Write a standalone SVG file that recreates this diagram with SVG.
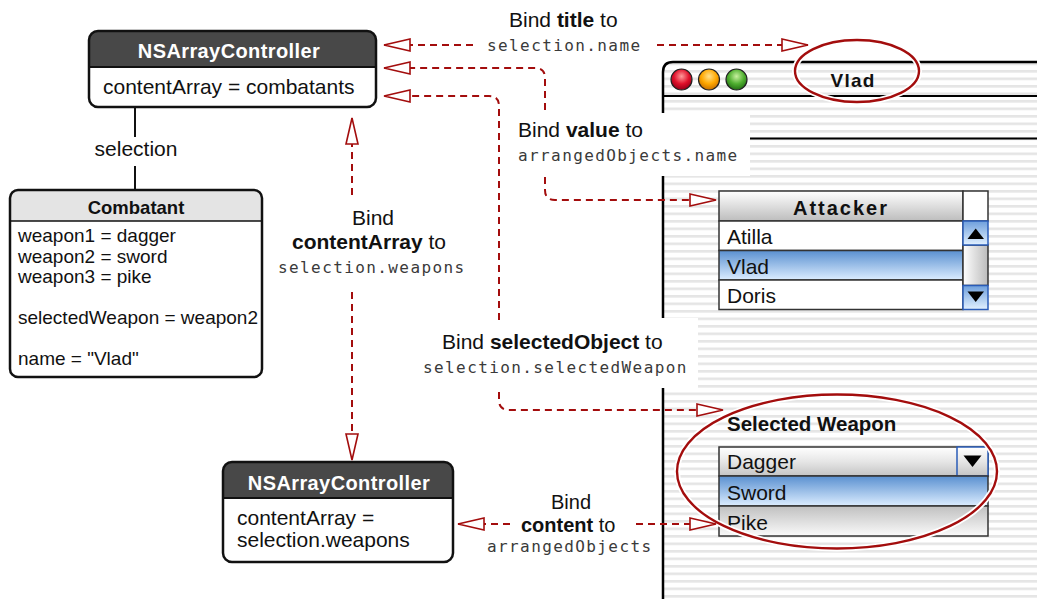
<svg xmlns="http://www.w3.org/2000/svg" width="1037" height="599" viewBox="0 0 1037 599">
<defs>
<style>
text{font-family:"Liberation Sans",Arial,sans-serif;fill:#111}
.lbl{font-size:21px}
.b{font-weight:bold}
.mono{font-family:"DejaVu Sans Mono","Liberation Mono",monospace;font-size:16px;letter-spacing:1.4px;fill:#3a3a3a}
.hdr{font-size:20px;font-weight:bold;fill:#fff;letter-spacing:0.4px}
.body{font-size:21px}
.cb{font-size:19px}
.box{fill:none;stroke:#111;stroke-width:2.5}
.conn{fill:none;stroke:#a30d0d;stroke-width:2;stroke-dasharray:7 5}
.cell{stroke:#333;stroke-width:1.5}
.ui{font-size:21px}
</style>
<pattern id="stripes" x="0" y="2.5" width="10" height="7.5" patternUnits="userSpaceOnUse">
<rect width="10" height="7.5" fill="#fff"/>
<rect width="10" height="2.6" fill="#e5e5e5"/>
</pattern>
<linearGradient id="gHead" x1="0" y1="0" x2="0" y2="1"><stop offset="0" stop-color="#fff"/><stop offset="1" stop-color="#bdbdbd"/></linearGradient>
<linearGradient id="gSel" x1="0" y1="0" x2="0" y2="1"><stop offset="0" stop-color="#5a90d0"/><stop offset="1" stop-color="#dcedff"/></linearGradient>
<linearGradient id="gBtn" x1="0" y1="0" x2="0" y2="1"><stop offset="0" stop-color="#6e9fdc"/><stop offset="1" stop-color="#e2f1ff"/></linearGradient>
<linearGradient id="gTrack" x1="0" y1="0" x2="1" y2="0"><stop offset="0" stop-color="#fff"/><stop offset="1" stop-color="#bbb"/></linearGradient>
<linearGradient id="gPop" x1="0" y1="0" x2="0" y2="1"><stop offset="0" stop-color="#fff"/><stop offset="0.5" stop-color="#e6e6e6"/><stop offset="1" stop-color="#c4c4c4"/></linearGradient>
<linearGradient id="gPike" x1="0" y1="0" x2="0" y2="1"><stop offset="0" stop-color="#c0c0c0"/><stop offset="1" stop-color="#fafafa"/></linearGradient>
<radialGradient id="gRed" cx="0.5" cy="0.35" r="0.6"><stop offset="0" stop-color="#ff9a9a"/><stop offset="0.6" stop-color="#e0102a"/><stop offset="1" stop-color="#a0001a"/></radialGradient>
<radialGradient id="gOrg" cx="0.5" cy="0.35" r="0.6"><stop offset="0" stop-color="#ffe08a"/><stop offset="0.6" stop-color="#ffa800"/><stop offset="1" stop-color="#d07800"/></radialGradient>
<radialGradient id="gGrn" cx="0.5" cy="0.35" r="0.6"><stop offset="0" stop-color="#c8f0a0"/><stop offset="0.6" stop-color="#50b030"/><stop offset="1" stop-color="#2a7a18"/></radialGradient>
<marker id="arr" viewBox="0 0 28 14" refX="27" refY="7" markerWidth="28" markerHeight="14" markerUnits="userSpaceOnUse" orient="auto">
<path d="M1,1 L27,7 L1,13 Z" fill="#fff" stroke="#a30d0d" stroke-width="1.6" stroke-dasharray="none"/>
</marker>
</defs>
<rect width="1037" height="599" fill="#fff"/>

<g id="window">
<path d="M663,599 V72 Q663,62 673,62 H1040 V599 Z" fill="url(#stripes)"/>
<line x1="663" y1="96" x2="1040" y2="96" stroke="#000" stroke-width="2"/>
<line x1="663" y1="138.5" x2="1040" y2="138.5" stroke="#000" stroke-width="2"/>
<path d="M663,599 V72 Q663,62 673,62 H1040" fill="none" stroke="#000" stroke-width="2.5"/>
<circle cx="681.5" cy="79.5" r="10.5" fill="url(#gRed)" stroke="#222" stroke-width="1.2"/>
<circle cx="709" cy="79.5" r="10.5" fill="url(#gOrg)" stroke="#222" stroke-width="1.2"/>
<circle cx="736.5" cy="79.5" r="10.5" fill="url(#gGrn)" stroke="#222" stroke-width="1.2"/>
<text x="853" y="87" text-anchor="middle" style="font-size:19px;font-weight:bold;letter-spacing:1.2px">Vlad</text>

<g id="attacker-table">
<rect x="719" y="191" width="244" height="30" fill="url(#gHead)" class="cell"/>
<text x="841" y="214.5" text-anchor="middle" style="font-size:20px;font-weight:bold;letter-spacing:2px">Attacker</text>
<rect x="719" y="221" width="244" height="29.5" fill="#fff" class="cell"/>
<rect x="719" y="250.5" width="244" height="29.5" fill="url(#gSel)" class="cell"/>
<rect x="719" y="280" width="244" height="29.5" fill="#fff" class="cell"/>
<text x="727" y="244" class="ui">Atilla</text>
<text x="727" y="273.5" class="ui">Vlad</text>
<text x="727" y="303" class="ui">Doris</text>
<rect x="963" y="191" width="25" height="30" fill="#fff" class="cell"/>
<rect x="963" y="245" width="25" height="40.5" fill="url(#gTrack)" class="cell"/>
<rect x="963" y="221" width="25" height="24" fill="url(#gBtn)" stroke="#2a5cb8" stroke-width="1.5"/>
<rect x="963" y="285.5" width="25" height="24" fill="url(#gBtn)" stroke="#2a5cb8" stroke-width="1.5"/>
<path d="M967.5,239 L984,239 L975.7,228.5 Z" fill="#000"/>
<path d="M967.5,291.5 L984,291.5 L975.7,302 Z" fill="#000"/>
</g>

<g id="weapon-popup">
<text x="727" y="430.5" style="font-size:20.5px;font-weight:bold">Selected Weapon</text>
<rect x="719" y="447" width="269" height="29" fill="url(#gPop)" class="cell"/>
<rect x="957" y="447" width="31" height="29" fill="url(#gPop)" stroke="#2a5cb8" stroke-width="1.5"/>
<path d="M963.5,455.5 L981.5,455.5 L972.5,467 Z" fill="#000"/>
<rect x="719" y="476" width="269" height="30" fill="url(#gSel)" class="cell"/>
<rect x="719" y="506" width="269" height="30" fill="url(#gPike)" class="cell"/>
<text x="727" y="468.5" class="ui">Dagger</text>
<text x="727" y="499.5" class="ui">Sword</text>
<text x="727" y="529.5" class="ui">Pike</text>
</g>

<g id="highlights">
<ellipse cx="857" cy="71" rx="62" ry="31" fill="none" stroke="#fff" stroke-width="6"/>
<ellipse cx="857" cy="71" rx="62" ry="31" fill="none" stroke="#a30d0d" stroke-width="2.4"/>
<ellipse cx="837" cy="471.5" rx="160" ry="77" fill="none" stroke="#fff" stroke-width="6"/>
<ellipse cx="837" cy="471.5" rx="160" ry="77" fill="none" stroke="#a30d0d" stroke-width="2.4"/>
</g>
</g>

<g id="node-top-controller">
<rect x="89" y="31" width="287" height="76" rx="9" fill="#fff"/>
<path d="M89,67 V40 Q89,31 98,31 H367 Q376,31 376,40 V67 Z" fill="#484848"/>
<line x1="89" y1="67" x2="376" y2="67" stroke="#111" stroke-width="2"/>
<rect x="89" y="31" width="287" height="76" rx="9" class="box"/>
<text x="229" y="57.5" text-anchor="middle" class="hdr">NSArrayController</text>
<text x="103" y="93.5" class="body">contentArray = combatants</text>
</g>

<g id="relation">
<line x1="135" y1="107" x2="135" y2="137" stroke="#111" stroke-width="2"/>
<line x1="135" y1="166" x2="135" y2="190" stroke="#111" stroke-width="2"/>
<text x="136" y="156" text-anchor="middle" class="lbl">selection</text>
</g>

<g id="node-combatant">
<rect x="10" y="190" width="252" height="187" rx="8" fill="#fff"/>
<path d="M10,221 V198 Q10,190 18,190 H254 Q262,190 262,198 V221 Z" fill="#e4e4e4"/>
<line x1="10" y1="221" x2="262" y2="221" stroke="#111" stroke-width="1.5"/>
<rect x="10" y="190" width="252" height="187" rx="8" class="box"/>
<text x="136" y="214" text-anchor="middle" style="font-size:18.5px;font-weight:bold">Combatant</text>
<text x="18" y="242" class="cb">weapon1 = dagger</text>
<text x="18" y="262.5" class="cb">weapon2 = sword</text>
<text x="18" y="282.5" class="cb">weapon3 = pike</text>
<text x="18" y="323.5" class="cb">selectedWeapon = weapon2</text>
<text x="18" y="364.5" class="cb">name = "Vlad"</text>
</g>

<g id="node-bottom-controller">
<rect x="223" y="462" width="230" height="100" rx="9" fill="#fff"/>
<path d="M223,498 V471 Q223,462 232,462 H444 Q453,462 453,471 V498 Z" fill="#484848"/>
<line x1="223" y1="498" x2="453" y2="498" stroke="#111" stroke-width="2"/>
<rect x="223" y="462" width="230" height="100" rx="9" class="box"/>
<text x="339" y="489.5" text-anchor="middle" class="hdr">NSArrayController</text>
<text x="237" y="525" class="body">contentArray =</text>
<text x="237" y="547" class="body">selection.weapons</text>
</g>

<g id="label-backgrounds">
<rect x="508" y="113" width="242" height="63" fill="#fff"/>
<rect x="415" y="318" width="283" height="70" fill="#fff"/>
</g>

<g id="connectors">
<path class="conn" d="M473,45 H384" marker-end="url(#arr)"/>
<path class="conn" d="M657,45 H808" marker-end="url(#arr)"/>
<path class="conn" d="M545,110 V78 Q545,68 535,68 H384" marker-end="url(#arr)"/>
<path class="conn" d="M545,177 V190 Q545,200 555,200 H716" marker-end="url(#arr)"/>
<path class="conn" d="M499,320 V106 Q499,96 489,96 H384" marker-end="url(#arr)"/>
<path class="conn" d="M499,392 V400 Q499,410 509,410 H723" marker-end="url(#arr)"/>
<path class="conn" d="M352,195 V118" marker-end="url(#arr)"/>
<path class="conn" d="M352,292 V460" marker-end="url(#arr)"/>
<path class="conn" d="M510,524 H458" marker-end="url(#arr)"/>
<path class="conn" d="M636,524 H716" marker-end="url(#arr)"/>
</g>

<g id="connector-labels">
<text x="509" y="27" class="lbl">Bind <tspan class="b">title</tspan> to</text>
<text x="487" y="51" class="mono">selection.name</text>
<text x="518" y="137" class="lbl">Bind <tspan class="b">value</tspan> to</text>
<text x="518" y="161" class="mono">arrangedObjects.name</text>
<text x="352" y="225" class="lbl">Bind</text>
<text x="292" y="248.5" class="lbl"><tspan class="b">contentArray</tspan> to</text>
<text x="278" y="273" class="mono">selection.weapons</text>
<text x="442" y="348.5" class="lbl">Bind <tspan class="b">selectedObject</tspan> to</text>
<text x="423" y="373" class="mono">selection.selectedWeapon</text>
<text x="551" y="509" style="font-size:20px">Bind</text>
<text x="521" y="532" style="font-size:20px"><tspan class="b">content</tspan> to</text>
<text x="487" y="552" class="mono">arrangedObjects</text>
</g>
</svg>
